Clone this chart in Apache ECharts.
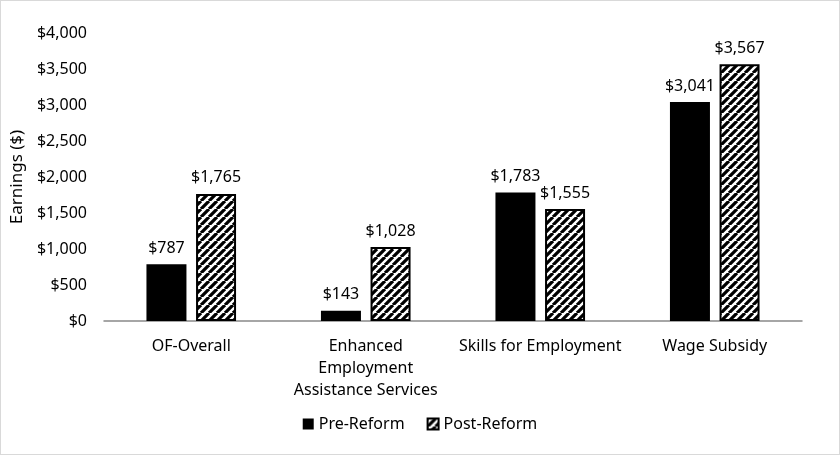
<!DOCTYPE html>
<html>
<head>
<meta charset="utf-8">
<script src="https://cdn.jsdelivr.net/npm/echarts@6/dist/echarts.min.js"></script>
<style>
html,body{margin:0;padding:0;background:#fff;}
#c{width:840px;height:455px;box-sizing:border-box;border:1px solid #d9d9d9;}
</style>
</head>
<body>
<div id="c"></div>
<script>
var categories = ['OF-Overall', 'Enhanced\nEmployment\nAssistance Services', 'Skills for Employment', 'Wage Subsidy'];
var preReform = [787, 143, 1783, 3041];
var postReform = [1765, 1028, 1555, 3567];
var seriesNames = ['Pre-Reform', 'Post-Reform'];

function makeHatch() {
  var s = 8;
  var cv = document.createElement('canvas');
  cv.width = s; cv.height = s;
  var ctx = cv.getContext('2d');
  ctx.fillStyle = '#fff';
  ctx.fillRect(0, 0, s, s);
  ctx.strokeStyle = '#000';
  ctx.lineWidth = 3.2;
  ctx.beginPath();
  for (var k = -1; k <= 1; k++) {
    ctx.moveTo(k * s, s);
    ctx.lineTo(k * s + s, 0);
  }
  ctx.stroke();
  return cv;
}
var hatch = makeHatch();

var font = 'Noto Sans';
var fmt = function (v) { return '$' + Number(v).toLocaleString('en-US'); };

var chart = echarts.init(document.getElementById('c'));
chart.setOption({
  animation: false,
  textStyle: { fontFamily: font },
  grid: { left: 103, right: 37, top: 32, bottom: 133, containLabel: false },
  legend: {
    bottom: 17,
    left: 'center',
    itemWidth: 11,
    itemHeight: 11,
    itemGap: 22,
    textStyle: { fontFamily: font, fontSize: 16, color: '#000' },
    data: [
      { name: seriesNames[0], icon: 'rect' },
      { name: seriesNames[1], icon: 'rect' }
    ]
  },
  xAxis: {
    type: 'category',
    data: categories,
    axisLine: { lineStyle: { color: '#898989', width: 1.5 } },
    axisTick: { show: false },
    axisLabel: { interval: 0, color: '#000', fontSize: 16, margin: 14, lineHeight: 22, fontFamily: font }
  },
  yAxis: {
    type: 'value',
    min: 0,
    max: 4000,
    interval: 500,
    name: 'Earnings ($)',
    nameLocation: 'middle',
    nameGap: 73,
    nameTextStyle: { color: '#000', fontSize: 17, fontFamily: font },
    axisLine: { show: false },
    axisTick: { show: false },
    splitLine: { show: false },
    axisLabel: { color: '#000', fontSize: 16, margin: 17, formatter: fmt, fontFamily: font }
  },
  series: [
    {
      name: seriesNames[0],
      type: 'bar',
      data: preReform,
      barWidth: 40,
      barGap: '24%',
      itemStyle: { color: '#000' },
      label: { show: true, position: 'top', distance: 8, color: '#000', fontSize: 16, formatter: function (p) { return fmt(p.value); } }
    },
    {
      name: seriesNames[1],
      type: 'bar',
      data: postReform,
      barWidth: 40,
      itemStyle: { color: { image: hatch, repeat: 'repeat' }, borderColor: '#000', borderWidth: 2 },
      label: { show: true, position: 'top', distance: 8, color: '#000', fontSize: 16, formatter: function (p) { return fmt(p.value); } }
    }
  ]
});
</script>
</body>
</html>
